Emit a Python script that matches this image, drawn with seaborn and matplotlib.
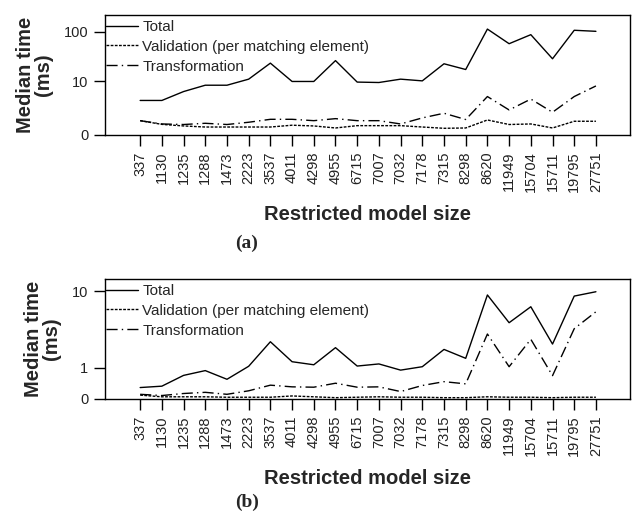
import numpy as np
import pandas as pd
import seaborn as sns
from matplotlib import pyplot as plt

# restricted model sizes (categorical x axis)
sizes = ["337", "1130", "1235", "1288", "1473", "2223", "3537", "4011", "4298", "4955", "6715",
         "7007", "7032", "7178", "7315", "8298", "8620", "11949", "15704", "15711", "19795", "27751"]

# (a) median times, ms
total_a = [3.7, 3.7, 6.0, 8.3, 8.3, 11.2, 24, 10, 10, 27, 9.7,
           9.5, 11.2, 10.3, 23.3, 17.8, 114, 58.7, 88.5, 29.4, 108, 103]
valid_a = [0.9, 0.61, 0.5, 0.43, 0.43, 0.43, 0.43, 0.55, 0.5, 0.37, 0.52,
           0.52, 0.52, 0.43, 0.35, 0.37, 0.96, 0.6, 0.64, 0.37, 0.85, 0.85]
trans_a = [0.9, 0.64, 0.6, 0.69, 0.6, 0.77, 1.02, 1.02, 0.9, 1.08, 0.9,
           0.9, 0.64, 1.15, 1.65, 1.0, 4.6, 2.07, 4.0, 1.77, 4.6, 8.0]

# (b) median times, ms
total_b = [0.29, 0.33, 0.69, 0.88, 0.55, 1.07, 2.57, 1.29, 1.14, 2.13, 1.08,
           1.18, 0.9, 1.05, 2.01, 1.47, 9.1, 4.45, 6.77, 2.39, 8.85, 9.85]
valid_b = [0.09, 0.05, 0.05, 0.05, 0.04, 0.04, 0.04, 0.07, 0.05, 0.03, 0.04,
           0.05, 0.04, 0.04, 0.03, 0.03, 0.05, 0.04, 0.04, 0.03, 0.04, 0.04]
trans_b = [0.11, 0.08, 0.13, 0.16, 0.11, 0.2, 0.36, 0.31, 0.3, 0.42, 0.3,
           0.31, 0.18, 0.35, 0.47, 0.4, 3.24, 1.05, 2.77, 0.68, 3.77, 5.95]

series_names = ["Total", "Validation (per matching element)", "Transformation"]
linestyles = ["-", (0, (2, 1)), (0, (8, 3, 1, 3))]

sns.set_style("ticks")
plt.rcParams["font.family"] = ["Liberation Sans", "DejaVu Sans"]

fig = plt.figure(figsize=(6.36, 5.13), dpi=100)
W, H = 636, 513


def panel(top, vals, yticks, ymax, tag, tag_y):
    ax = fig.add_axes([105 / W, 1 - (top + 120) / H, 525 / W, 120 / H])
    df = pd.DataFrame({"pos": np.arange(len(sizes))})
    for name, v, ls in zip(series_names, vals, linestyles):
        df[name] = v
        sns.lineplot(data=df, x="pos", y=name, ax=ax, color="black", linewidth=1.0,
                     linestyle=ls, label=name)
    # log(1 + t) axis so that 0 can be shown
    ax.set_yscale("function", functions=(lambda y: np.log10(1 + np.clip(y, -0.99, None)),
                                         lambda y: 10 ** y - 1))
    ax.set_ylim(0, ymax)
    ax.set_yticks(yticks)
    ax.set_yticklabels([str(t) for t in yticks])
    ax.set_xlim(-1.62, 22.57)
    ax.set_xticks(np.arange(len(sizes)))
    ax.set_xticklabels(sizes, rotation=90)
    ax.tick_params(length=8, width=1, labelsize=10.5, pad=4, color="black", labelcolor="#222222")
    for s in ax.spines.values():
        s.set_linewidth(1.0)
        s.set_color("black")
    ax.set_xlabel("Restricted model size", fontsize=14.5, fontweight="bold", labelpad=9)
    ax.set_ylabel("Median time\n(ms)", fontsize=14.5, fontweight="bold", labelpad=8,
                  linespacing=0.9)
    ax.legend(loc="upper left", frameon=False, fontsize=11, handlelength=2.1,
              handletextpad=0.3, labelspacing=0.38, borderaxespad=0.0, borderpad=0.05,
              bbox_to_anchor=(0.0, 0.965))
    fig.text(247 / W, 1 - tag_y / H, tag, ha="center", va="center",
             fontsize=14, fontweight="bold", family=["Liberation Serif", "DejaVu Serif"])
    return ax


panel(15, [total_a, valid_a, trans_a], [0, 10, 100], 215, "(a)", 243)
panel(279, [total_b, valid_b, trans_b], [0, 1, 10], 13.4, "(b)", 502)

fig.savefig("out.png", dpi=100)
